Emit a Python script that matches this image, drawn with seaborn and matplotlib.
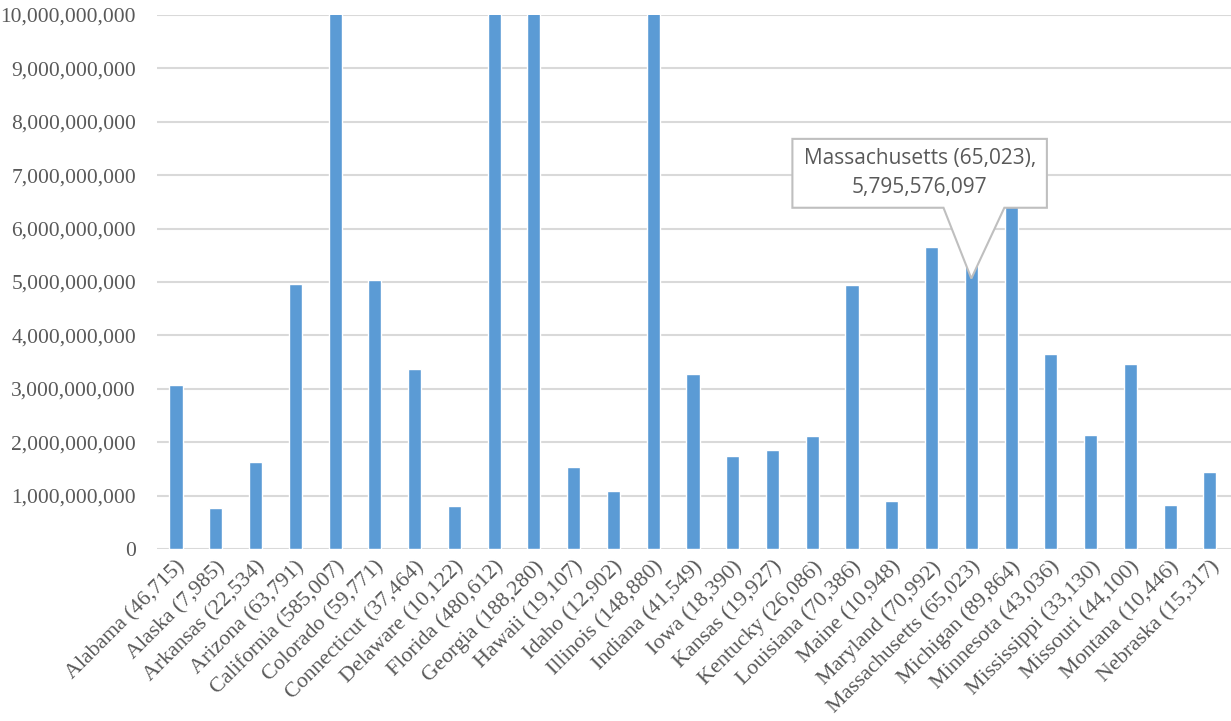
import matplotlib
matplotlib.use("Agg")
import matplotlib.pyplot as plt
import matplotlib.ticker as mticker
from matplotlib.patches import Polygon
import pandas as pd
import seaborn as sns

# chart values (bars above 10B are clipped in the original)
states = ["Alabama (46,715)", "Alaska (7,985)", "Arkansas (22,534)", "Arizona (63,791)",
          "California (585,007)", "Colorado (59,771)", "Connecticut (37,464)",
          "Delaware (10,122)", "Florida (480,612)", "Georgia (188,280)", "Hawaii (19,107)",
          "Idaho (12,902)", "Illinois (148,880)", "Indiana (41,549)", "Iowa (18,390)",
          "Kansas (19,927)", "Kentucky (26,086)", "Louisiana (70,386)", "Maine (10,948)",
          "Maryland (70,992)", "Massachusetts (65,023)", "Michigan (89,864)",
          "Minnesota (43,036)", "Mississippi (33,130)", "Missouri (44,100)",
          "Montana (10,446)", "Nebraska (15,317)"]
values = [3.08e9, 0.77e9, 1.63e9, 4.96e9, 52.0e9, 5.04e9, 3.37e9, 0.80e9, 43.0e9, 17.0e9,
          1.53e9, 1.08e9, 13.5e9, 3.28e9, 1.74e9, 1.85e9, 2.11e9, 4.94e9, 0.90e9, 5.65e9,
          5795576097, 6.9e9, 3.66e9, 2.14e9, 3.46e9, 0.83e9, 1.44e9]
callout_idx = 20

df = pd.DataFrame({"state": states, "value": values})

sns.set_style("white")
plt.rcParams["font.family"] = "serif"
plt.rcParams["font.serif"] = ["Liberation Serif", "DejaVu Serif"]

fig = plt.figure(figsize=(12.31, 7.21), dpi=100)
ax = fig.add_axes([0.1275, 0.2386, 0.8725, 0.7406])

sns.barplot(data=df, x="state", y="value", color="#5B9BD5", saturation=1,
            width=0.33, ax=ax, zorder=2)

ax.set_ylim(0, 10e9)
ax.set_xlim(-0.48, len(states) - 0.47)
ax.yaxis.set_major_locator(mticker.MultipleLocator(1e9))
ax.yaxis.set_major_formatter(mticker.FuncFormatter(lambda v, p: f"{v:,.0f}"))
ax.grid(axis="y", color="#D9D9D9", lw=1.5, zorder=0)
ax.set_axisbelow(True)
for s in ax.spines.values():
    s.set_visible(False)
ax.set_xlabel("")
ax.set_ylabel("")
ax.tick_params(axis="y", length=0, labelsize=15.5, labelcolor="#595959", pad=15)
ax.tick_params(axis="x", length=0, labelsize=15.8, labelcolor="#595959", pad=6)
plt.setp(ax.get_xticklabels(), rotation=45, ha="right", va="top", rotation_mode="anchor")

# callout for Massachusetts
cx = callout_idx
v = values[callout_idx]
box = [(cx - 4.5, 7.68e9), (cx + 1.9, 7.68e9), (cx + 1.9, 6.39e9), (cx + 0.83, 6.39e9),
       (cx, v - 0.73e9), (cx - 0.7, 6.39e9), (cx - 4.5, 6.39e9)]
ax.add_patch(Polygon(box, closed=True, facecolor="white", edgecolor="#BFBFBF",
                     lw=1.5, zorder=5, clip_on=False))
ax.text(cx - 1.3, 7.04e9, f"{states[callout_idx]},\n{v:,.0f}", ha="center", va="center",
        fontsize=15, color="#595959", family=["Open Sans", "DejaVu Sans"],
        linespacing=1.45, zorder=6)

fig.savefig("out.png", dpi=100)
